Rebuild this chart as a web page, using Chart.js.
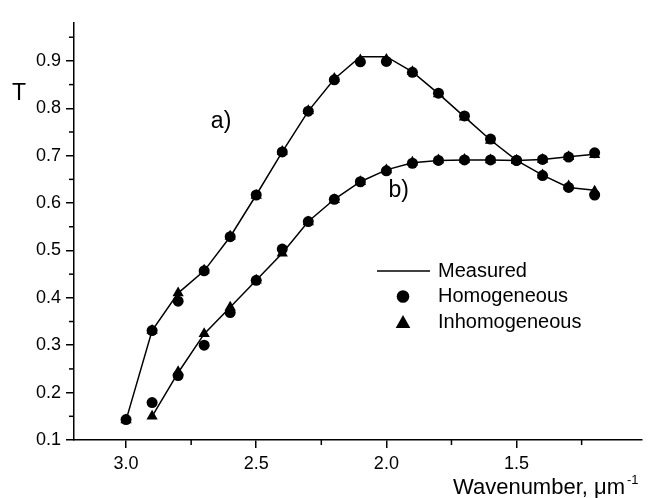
<!DOCTYPE html>
<html><head><meta charset="utf-8">
<script src="https://cdn.jsdelivr.net/npm/chart.js@4.4.0/dist/chart.umd.min.js"></script>
<style>html,body{margin:0;padding:0;background:#fff;overflow:hidden}</style>
</head><body>
<canvas id="c" width="648" height="498"></canvas>
<script>
// ---- data ----
const xA = [3.0,2.9,2.8,2.7,2.6,2.5,2.4,2.3,2.2,2.1,2.0,1.9,1.8,1.7,1.6,1.5,1.4,1.3,1.2];
const measuredA = [0.142,0.331,0.410,0.457,0.529,0.617,0.708,0.794,0.862,0.909,0.909,0.877,0.831,0.782,0.733,0.690,0.659,0.633,0.627];
const homA      = [0.143,0.331,0.393,0.457,0.529,0.617,0.708,0.794,0.860,0.898,0.899,0.876,0.832,0.784,0.735,0.690,0.658,0.633,0.617];
const inhomA    = [0.142,0.331,0.410,0.458,0.530,0.616,0.709,0.795,0.863,0.902,0.903,0.877,0.830,0.781,0.732,0.690,0.659,0.636,0.625];

const xB = [2.9,2.8,2.7,2.6,2.5,2.4,2.3,2.2,2.1,2.0,1.9,1.8,1.7,1.6,1.5,1.4,1.3,1.2];
const measuredB = [0.150,0.242,0.324,0.380,0.437,0.494,0.561,0.608,0.645,0.670,0.685,0.690,0.691,0.691,0.690,0.692,0.698,0.703];
const homB      = [0.179,0.236,0.300,0.369,0.437,0.503,0.561,0.608,0.645,0.668,0.684,0.690,0.691,0.691,0.690,0.692,0.697,0.706];
const inhomB    = [0.150,0.244,0.324,0.380,0.437,0.494,0.560,0.607,0.645,0.670,0.686,0.691,0.692,0.691,0.690,0.692,0.698,0.702];

const xTicks = [3.0,2.5,2.0,1.5];
const xMinorTicks = [2.75,2.25,1.75,1.25];
const yTicks = [0.1,0.2,0.3,0.4,0.5,0.6,0.7,0.8,0.9];
const yMinorTicks = [0.15,0.25,0.35,0.45,0.55,0.65,0.75,0.85,0.95];
const legendLabels = ['Measured','Homogeneous','Inhomogeneous'];
const curveLabels = [{text:'a)', x:2.635, y:0.771},{text:'b)', x:1.953, y:0.627}];

const FONT = '"Liberation Sans", Arial, Helvetica, sans-serif';
const pts = (xs, ys) => xs.map((x,i)=>({x:x, y:ys[i]}));

const lineDs = (d) => ({type:'line', data:d, borderColor:'#000', borderWidth:1.5, pointRadius:0, tension:0, fill:false, showLine:true});
const markDs = (d, style, r) => ({type:'scatter', data:d, pointStyle:style, pointRadius:r, backgroundColor:'#000', borderColor:'#000', borderWidth:0, showLine:false});

const overlay = {
  id:'overlay',
  afterDraw(chart){
    const ctx = chart.ctx, xs = chart.scales.x, ys = chart.scales.y;
    ctx.save();
    ctx.strokeStyle = '#000'; ctx.lineWidth = 1.5;
    xMinorTicks.forEach(v=>{const p=xs.getPixelForValue(v); ctx.beginPath(); ctx.moveTo(p, ys.bottom); ctx.lineTo(p, ys.bottom+5); ctx.stroke();});
    yMinorTicks.forEach(v=>{const p=ys.getPixelForValue(v); ctx.beginPath(); ctx.moveTo(xs.left, p); ctx.lineTo(xs.left-5, p); ctx.stroke();});
    ctx.fillStyle = '#000';
    // curve labels
    ctx.font = '23px ' + FONT; ctx.textAlign='center'; ctx.textBaseline='middle';
    curveLabels.forEach(c=>ctx.fillText(c.text, xs.getPixelForValue(c.x), ys.getPixelForValue(c.y)));
    // y title
    ctx.font = '23px ' + FONT; ctx.textAlign='left'; ctx.textBaseline='alphabetic';
    ctx.fillText('T', 12, 100);
    // x title
    ctx.font = '22px ' + FONT; ctx.textAlign='right';
    ctx.fillText('Wavenumber, \u03bcm', 625, 494);
    ctx.font = '13px ' + FONT; ctx.textAlign='left';
    ctx.fillText('-1', 627, 484);
    // legend
    const lx = 377, ly = 271, rowH = 25.5, tx = 438;
    ctx.font = '20px ' + FONT; ctx.textAlign='left'; ctx.textBaseline='middle';
    ctx.beginPath(); ctx.moveTo(lx, ly); ctx.lineTo(lx+53, ly); ctx.stroke();
    ctx.fillText(legendLabels[0], tx, ly);
    ctx.beginPath(); ctx.arc(lx+26, ly+rowH, 6.3, 0, Math.PI*2); ctx.fill();
    ctx.fillText(legendLabels[1], tx, ly+rowH);
    const cx = lx+26, cy = ly+2*rowH;
    ctx.beginPath(); ctx.moveTo(cx, cy-7); ctx.lineTo(cx+7.3, cy+6); ctx.lineTo(cx-7.3, cy+6); ctx.closePath(); ctx.fill();
    ctx.fillText(legendLabels[2], tx, cy);
    ctx.restore();
  }
};

new Chart(document.getElementById('c'), {
  data:{datasets:[
    lineDs(pts(xA, measuredA)), lineDs(pts(xB, measuredB)),
    markDs(pts(xA, inhomA), 'triangle', 6.5), markDs(pts(xB, inhomB), 'triangle', 6.5),
    markDs(pts(xA, homA), 'circle', 5.5), markDs(pts(xB, homB), 'circle', 5.5)
  ]},
  options:{
    responsive:false, animation:false, devicePixelRatio:1,
    layout:{padding:{top:23, right:0, left:0, bottom:0}},
    plugins:{legend:{display:false}, tooltip:{enabled:false}},
    scales:{
      x:{type:'linear', reverse:true, min:1.02, max:3.2,
        afterBuildTicks:s=>{s.ticks = xTicks.map(v=>({value:v}));},
        afterFit:s=>{s.height = 58;},
        border:{display:true, color:'#000', width:1.5},
        grid:{drawOnChartArea:false, drawTicks:true, tickLength:8, color:'#000', lineWidth:1.5},
        ticks:{color:'#000', font:{family:FONT, size:18}, padding:5, maxRotation:0, callback:v=>Number(v).toFixed(1)}
      },
      y:{type:'linear', min:0.1, max:0.98,
        afterBuildTicks:s=>{s.ticks = yTicks.map(v=>({value:v}));},
        afterFit:s=>{s.width = 74;},
        border:{display:true, color:'#000', width:1.5},
        grid:{drawOnChartArea:false, drawTicks:true, tickLength:8, color:'#000', lineWidth:1.5},
        ticks:{color:'#000', font:{family:FONT, size:18}, padding:5, callback:v=>Number(v).toFixed(1)}
      }
    }
  },
  plugins:[overlay]
});
</script>
</body></html>
